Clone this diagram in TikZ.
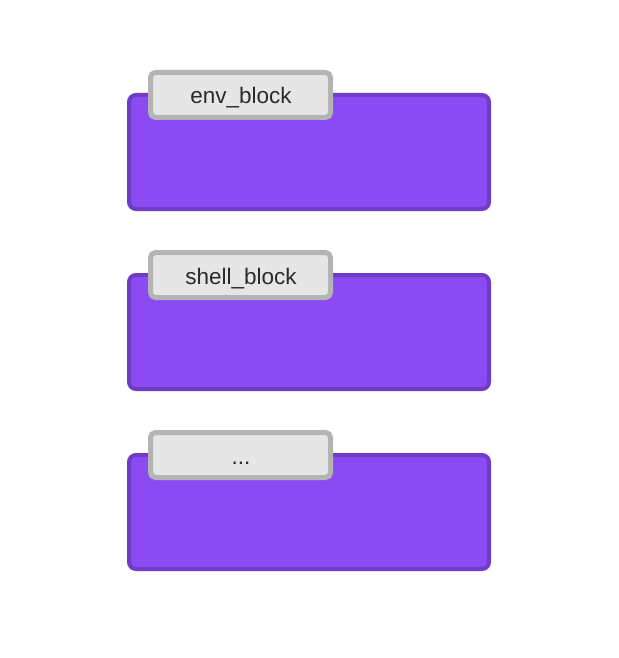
\documentclass[tikz,border=0pt]{standalone}
\usepackage{fontspec}
\setmainfont{Liberation Sans}
\definecolor{pfill}{HTML}{8B4BF3}
\definecolor{pline}{HTML}{6E3CC6}
\definecolor{gfill}{HTML}{E6E6E6}
\definecolor{gline}{HTML}{B4B4B4}
\definecolor{tcol}{HTML}{2A2A2A}
\tikzset{
  blockbox/.style={draw=pline, fill=pfill, line width=4pt, rounded corners=7pt},
  labelbox/.style={draw=gline, fill=gfill, line width=5pt, rounded corners=5pt},
  labeltext/.style={anchor=base, text=tcol, font=\fontsize{22.5}{26}\selectfont, inner sep=0pt}
}
\begin{document}
\begin{tikzpicture}[x=1pt,y=-1pt]
\useasboundingbox (0,0) rectangle (618,658);
% block 1
\draw[blockbox] (129,95) rectangle (489,209);
\draw[labelbox] (150.5,72.5) rectangle (330.5,117.5);
\node[labeltext] (a) at (241,104) {env\_block};
% block 2
\draw[blockbox] (129,275) rectangle (489,389);
\draw[labelbox] (150.5,252.5) rectangle (330.5,297.5);
\node[labeltext] (b) at (241,284) {shell\_block};
% block 3
\draw[blockbox] (129,455) rectangle (489,569);
\draw[labelbox] (150.5,432.5) rectangle (330.5,477.5);
\node[labeltext] (c) at (241,464) {...};
\end{tikzpicture}
\end{document}
